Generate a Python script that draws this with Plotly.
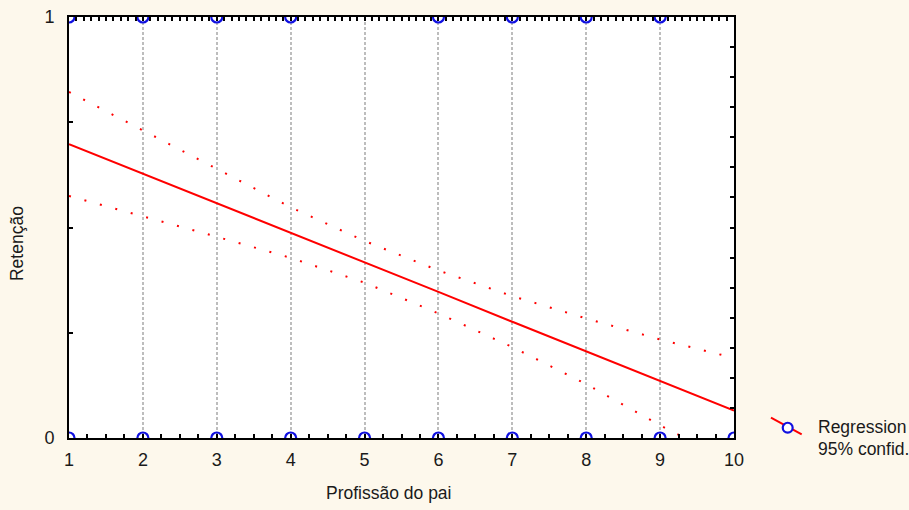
import plotly.graph_objects as go

# Data
prof = [1, 2, 3, 4, 5, 6, 7, 8, 9, 10]
fit = [0.698, 0.628, 0.558, 0.487, 0.417, 0.347, 0.276, 0.206, 0.136, 0.065]
upper = [0.822, 0.731, 0.638, 0.548, 0.468, 0.398, 0.337, 0.284, 0.234, 0.190]
lower = [0.575, 0.527, 0.478, 0.428, 0.369, 0.296, 0.216, 0.128, 0.030, -0.060]
obs_x = [1, 2, 3, 4, 6, 7, 8, 9, 1, 2, 3, 4, 5, 6, 7, 8, 9, 10]
obs_y = [1, 1, 1, 1, 1, 1, 1, 1, 0, 0, 0, 0, 0, 0, 0, 0, 0, 0]
x_ticks = [1, 2, 3, 4, 5, 6, 7, 8, 9, 10]
y_ticks = [0, 1]

FONT = "Liberation Sans, Arial, sans-serif"
TXT = "#1a1a1a"
BG = "#fdf8ec"

fig = go.Figure()
fig.add_trace(go.Scatter(x=prof, y=upper, mode="lines",
                         line=dict(color="red", width=2, dash="2px,14px"),
                         showlegend=False, hoverinfo="skip"))
fig.add_trace(go.Scatter(x=prof, y=lower, mode="lines",
                         line=dict(color="red", width=2, dash="2px,14px"),
                         showlegend=False, hoverinfo="skip"))
fig.add_trace(go.Scatter(x=prof, y=fit, mode="lines",
                         line=dict(color="red", width=2),
                         showlegend=False))
fig.add_trace(go.Scatter(x=obs_x, y=obs_y, mode="markers",
                         marker=dict(symbol="circle-open", size=11, color="#1010e0",
                                     line=dict(width=2.2, color="#1010e0")),
                         showlegend=False, cliponaxis=True))

# invisible trace to activate top / right axes
fig.add_trace(go.Scatter(x=[1], y=[0], xaxis="x2", yaxis="y2", mode="markers",
                         marker=dict(opacity=0), showlegend=False, hoverinfo="skip"))

fig.update_layout(
    width=909, height=510,
    paper_bgcolor=BG, plot_bgcolor="white",
    margin=dict(l=69, r=175, t=17, b=72, autoexpand=False),
    font=dict(family=FONT, size=18, color=TXT),
    xaxis=dict(range=[1, 10], tickmode="array", tickvals=x_ticks,
               ticks="inside", ticklen=4, tickwidth=2, tickcolor="black",
               ticklabelstandoff=4, automargin=False,
               showline=True, linecolor="black", linewidth=2,
               showgrid=True, gridcolor="#bdbdbd", griddash="3px,2px", gridwidth=1.5,
               zeroline=False,
               minor=dict(dtick=0.25, ticks="inside", ticklen=4, tickwidth=2,
                          tickcolor="black", showgrid=False)),
    xaxis2=dict(range=[1, 10], overlaying="x", side="top", anchor="y",
                showticklabels=False, ticks="inside", dtick=0.1, tick0=1,
                ticklen=4, tickwidth=2, tickcolor="black", automargin=False,
                showline=True, linecolor="black", linewidth=2,
                showgrid=False, zeroline=False),
    yaxis=dict(range=[0, 1], tickmode="array", tickvals=y_ticks,
               ticks="inside", ticklen=4, tickwidth=2, tickcolor="black",
               ticklabelstandoff=9, automargin=False,
               showline=True, linecolor="black", linewidth=2,
               showgrid=False, zeroline=False,
               minor=dict(dtick=0.25, ticks="inside", ticklen=4, tickwidth=2,
                          tickcolor="black", showgrid=False)),
    yaxis2=dict(range=[0, 1], overlaying="y", side="right", anchor="x",
                showticklabels=False, ticks="inside", dtick=1/14, tick0=0,
                ticklen=4, tickwidth=2, tickcolor="black", automargin=False,
                showline=True, linecolor="black", linewidth=2,
                showgrid=False, zeroline=False),
    showlegend=False,
)

# axis titles
fig.add_annotation(text="Profissão do pai", xref="paper", yref="paper",
                   x=0.481, y=-0.130, xanchor="center", yanchor="middle",
                   showarrow=False, font=dict(size=17.5, family=FONT, color=TXT))
fig.add_annotation(text="Retenção", xref="paper", yref="paper",
                   x=-0.078, y=0.461, xanchor="center", yanchor="middle",
                   textangle=-90,
                   showarrow=False, font=dict(size=17.5, family=FONT, color=TXT))

# custom legend
fig.add_shape(type="line", xref="paper", yref="paper",
              x0=1.0556, y0=0.0482, x1=1.1018, y1=0.0088,
              line=dict(color="red", width=2))
fig.add_shape(type="circle", xref="paper", yref="paper",
              x0=1.0733, x1=1.0882, y0=0.0128, y1=0.0362,
              fillcolor="white", line=dict(color="#1010e0", width=2.2))
fig.add_annotation(text="Regression", xref="paper", yref="paper",
                   x=1.1233, y=0.0261, xanchor="left", yanchor="middle",
                   showarrow=False, font=dict(size=17.5, family=FONT, color=TXT))
fig.add_annotation(text="95% confid.", xref="paper", yref="paper",
                   x=1.1233, y=-0.0261, xanchor="left", yanchor="middle",
                   showarrow=False, font=dict(size=17.5, family=FONT, color=TXT))

fig.write_html("out.html", config={"displayModeBar": False},
               post_script="document.body.style.margin='0';document.body.style.overflow='hidden';")
